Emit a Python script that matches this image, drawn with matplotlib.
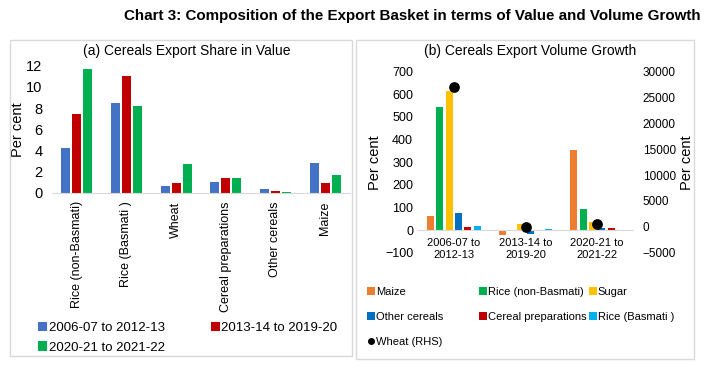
import numpy as np
import matplotlib.pyplot as plt
from matplotlib.patches import Rectangle
from matplotlib.lines import Line2D

plt.rcParams['font.family'] = ['Liberation Sans', 'DejaVu Sans']

# (a) share in value
cereals = ['Rice (non-Basmati)', 'Rice (Basmati )', 'Wheat', 'Cereal preparations', 'Other cereals', 'Maize']
periods_a = ['2006-07 to 2012-13', '2013-14 to 2019-20', '2020-21 to 2021-22']
share_p1 = [4.2, 8.5, 0.7, 1.0, 0.4, 2.8]
share_p2 = [7.4, 11.0, 0.9, 1.4, 0.2, 0.9]
share_p3 = [11.7, 8.2, 2.7, 1.4, 0.1, 1.7]
colors_a = ['#4472C4', '#C00000', '#00B050']

# (b) volume growth
periods_b = ['2006-07 to\n2012-13', '2013-14 to\n2019-20', '2020-21 to\n2021-22']
series_b = ['Maize', 'Rice (non-Basmati)', 'Sugar', 'Other cereals', 'Cereal preparations', 'Rice (Basmati )']
maize = [63, -21, 353]
rice_nb = [545, 1, 94]
sugar = [614, 25, 34]
other_cereals = [77, -16, 8]
cereal_prep = [15, -2, 10]
rice_basmati = [18, 3, -5]
wheat_rhs = [27000, -100, 520]
colors_b = ['#ED7D31', '#00B050', '#FFC000', '#0070C0', '#C00000', '#00B0F0']

W, H = 707, 372
fig = plt.figure(figsize=(W / 100, H / 100), dpi=100)

def box(x0, y0, x1, y1):
    fig.patches.append(Rectangle((x0 / W, 1 - y1 / H), (x1 - x0) / W, (y1 - y0) / H,
                                 transform=fig.transFigure, fill=False, ec='#D9D9D9', lw=1))

box(10, 40, 352, 356)
box(356, 40, 694, 359)

fig.text(412 / W, 1 - 16 / H, 'Chart 3: Composition of the Export Basket in terms of Value and Volume Growth',
         ha='center', va='center', fontsize=10.9, fontweight='bold')

# panel a
ax = fig.add_axes([52 / W, 1 - 193 / H, 298 / W, 127.3 / H])
x = np.arange(len(cereals))
for i, vals in enumerate([share_p1, share_p2, share_p3]):
    ax.bar(x + (i - 1) * 0.22, vals, width=0.18, color=colors_a[i], label=periods_a[i])
ax.set_xlim(-0.5, len(cereals) - 0.5)
ax.set_ylim(0, 12)
ax.set_yticks(range(0, 13, 2))
ax.set_xticks(x)
ax.set_xticklabels(cereals, rotation=90)
ax.tick_params(length=0, labelsize=10.5, pad=7)
ax.tick_params(axis='x', labelsize=9, pad=6)
for s in ['top', 'right', 'left']:
    ax.spines[s].set_visible(False)
ax.spines['bottom'].set_color('#D9D9D9')
ax.set_ylabel('Per cent', fontsize=10.5, labelpad=0.5)
fig.text(187 / W, 1 - 50.5 / H, '(a) Cereals Export Share in Value', ha='center', va='center', fontsize=10)
h, l = ax.get_legend_handles_labels()
order = [0, 2, 1]
ax.legend([h[k] for k in order], [l[k] for k in order], ncol=2, frameon=False, fontsize=9.5,
          loc='upper left', bbox_to_anchor=(38 / W, 1 - 322 / H), bbox_transform=fig.transFigure,
          handlelength=0.7, handleheight=0.7, handletextpad=0.1, columnspacing=3.5, labelspacing=0.55,
          borderaxespad=0, borderpad=0)

# panel b
bx = fig.add_axes([418 / W, 1 - 252.7 / H, 215 / W, 181 / H])
xb = np.arange(len(periods_b))
handles = []
for i, vals in enumerate([maize, rice_nb, sugar, other_cereals, cereal_prep, rice_basmati]):
    b = bx.bar(xb + (i - 2.5) * 0.13, vals, width=0.1, color=colors_b[i], label=series_b[i])
    handles.append(b)
bx.set_xlim(-0.5, len(periods_b) - 0.5)
bx.set_ylim(-100, 700)
bx.set_yticks(range(-100, 701, 100))
bx.set_xticks(xb)
bx.set_xticklabels(periods_b, linespacing=1.1)
bx.tick_params(length=0, labelsize=9)
bx.tick_params(axis='x', labelsize=8, pad=6)
bx.spines['bottom'].set_position(('data', 0))
bx.spines['bottom'].set_color('#D9D9D9')
for s in ['top', 'right', 'left']:
    bx.spines[s].set_visible(False)
bx.set_ylabel('Per cent', fontsize=10.5, labelpad=2)
fig.text(530 / W, 1 - 50.5 / H, '(b) Cereals Export Volume Growth', ha='center', va='center', fontsize=10)

bx2 = bx.twinx()
bx2.scatter(xb, wheat_rhs, s=45, color='black', zorder=5, label='Wheat (RHS)')
bx2.set_ylim(-5000, 30000)
bx2.set_yticks(range(-5000, 30001, 5000))
bx2.tick_params(length=0, labelsize=8.5, pad=7)
for s in ['top', 'right', 'left', 'bottom']:
    bx2.spines[s].set_visible(False)
bx2.set_ylabel('Per cent', fontsize=10.5, labelpad=3)

dot = Line2D([], [], marker='o', color='black', ls='', markersize=4)
columns_b = [([handles[0], handles[3], dot], ['Maize', 'Other cereals', 'Wheat (RHS)'], 367),
             ([handles[1], handles[4]], ['Rice (non-Basmati)', 'Cereal preparations'], 479),
             ([handles[2], handles[5]], ['Sugar', 'Rice (Basmati )'], 589)]
for hs, ls, xpos in columns_b:
    fig.legend(hs, ls, frameon=False, fontsize=8, loc='upper left',
               bbox_to_anchor=(xpos / W, 1 - 287 / H), bbox_transform=fig.transFigure,
               handlelength=0.7, handleheight=0.7, handletextpad=0.1, labelspacing=1.35,
               borderaxespad=0, borderpad=0)

fig.savefig('out.png', dpi=100)
